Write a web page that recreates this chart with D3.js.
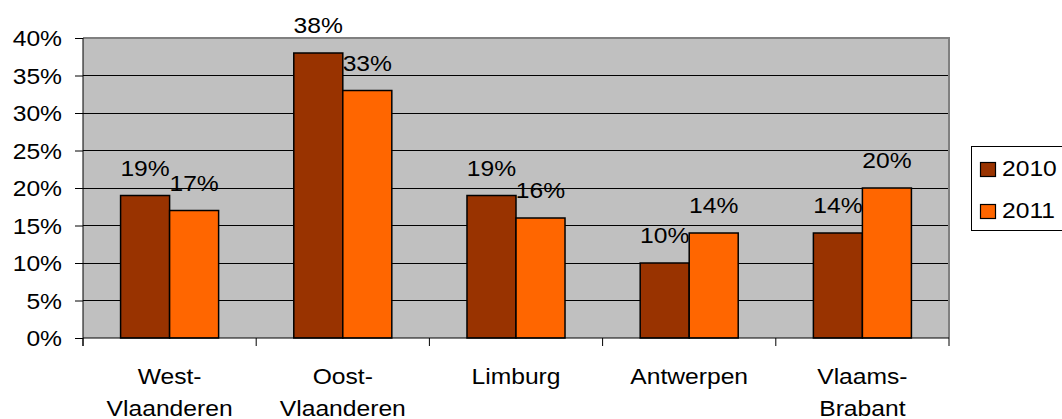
<!DOCTYPE html>
<html>
<head>
<meta charset="utf-8">
<script src="https://d3js.org/d3.v7.min.js"></script>
<style>
  html, body { margin: 0; padding: 0; background: #ffffff; }
  svg { display: block; }
  text { font-family: "Liberation Sans", Arial, sans-serif; fill: #000; }
</style>
</head>
<body>
<svg id="chart" width="1062" height="419"></svg>
<script>
const categories = [["West-", "Vlaanderen"], ["Oost-", "Vlaanderen"], ["Limburg"], ["Antwerpen"], ["Vlaams-", "Brabant"]];
const seriesNames = ["2010", "2011"];
const values2010 = [19, 38, 19, 10, 14];
const values2011 = [17, 33, 16, 14, 20];
const yTicks = [0, 5, 10, 15, 20, 25, 30, 35, 40];
const colors = ["#993300", "#FF6600"];

(function () {
const FONT = 22, STRETCH = 1.12;
const svg = d3.select("#chart");
const pLeft = 83, pRight = 949, pTop = 38, pBottom = 338;

const catKeys = categories.map(c => c.join(" "));
const x0 = d3.scaleBand().domain(catKeys).range([pLeft, pRight]).paddingInner(0).paddingOuter(0);
const bw = x0.bandwidth();
const x1 = d3.scaleBand().domain(seriesNames).range([bw * 0.217, bw * 0.783]).padding(0);
const y = d3.scaleLinear().domain([0, 40]).range([pBottom, pTop]);

function stretch(sel) {
  sel.each(function () {
    const l = this.getComputedTextLength();
    this.setAttribute("textLength", l * STRETCH);
    this.setAttribute("lengthAdjust", "spacingAndGlyphs");
  });
}

svg.append("rect").attr("x", pLeft).attr("y", pTop).attr("width", pRight - pLeft).attr("height", pBottom - pTop)
  .attr("fill", "#C0C0C0");

svg.append("g").selectAll("line").data(yTicks.filter(t => t > 0 && t < 40)).join("line")
  .attr("x1", pLeft).attr("x2", pRight).attr("y1", d => y(d)).attr("y2", d => y(d))
  .attr("stroke", "#000").attr("stroke-width", 1).attr("shape-rendering", "crispEdges");

svg.append("path")
  .attr("d", `M${pLeft},${pTop}H${pRight}V${pBottom}`)
  .attr("fill", "none").attr("stroke", "#808080").attr("stroke-width", 2);

const data = catKeys.map((k, i) => ({ key: k, vals: [values2010[i], values2011[i]] }));
const groups = svg.append("g").selectAll("g").data(data).join("g")
  .attr("transform", d => `translate(${x0(d.key)},0)`);
groups.selectAll("rect").data(d => d.vals.map((v, j) => ({ s: seriesNames[j], v, j }))).join("rect")
  .attr("x", d => x1(d.s)).attr("width", x1.bandwidth())
  .attr("y", d => y(d.v)).attr("height", d => y(0) - y(d.v))
  .attr("fill", d => colors[d.j]).attr("stroke", "#000").attr("stroke-width", 1.5);

groups.selectAll("text").data(d => d.vals.map((v, j) => ({ s: seriesNames[j], v, j }))).join("text")
  .attr("x", d => x1(d.s) + x1.bandwidth() / 2)
  .attr("y", d => y(d.v) - 20)
  .attr("text-anchor", "middle").style("font-size", FONT + "px")
  .text(d => d.v + "%")
  .call(stretch);

const yAxis = d3.axisLeft(y).tickValues(yTicks).tickFormat(d => d + "%").tickSize(8).tickPadding(13);
const gy = svg.append("g").attr("transform", `translate(${pLeft},0)`).call(yAxis);
gy.select(".domain").attr("d", `M0,${pTop}V${pBottom + 8}`).attr("stroke", "#000").attr("stroke-width", 1);
gy.selectAll(".tick line").attr("stroke", "#000");
gy.selectAll(".tick text").attr("dy", "0.36em").style("font-size", FONT + "px")
  .style("font-family", '"Liberation Sans", Arial, sans-serif').attr("fill", "#000").call(stretch);

const gx = svg.append("g").attr("transform", `translate(0,${pBottom})`);
gx.append("line").attr("x1", pLeft).attr("x2", pRight).attr("y1", 0).attr("y2", 0).attr("stroke", "#000");
const bounds = catKeys.map(k => x0(k)).concat([pRight]);
gx.selectAll("line.tk").data(bounds).join("line").attr("class", "tk")
  .attr("x1", d => d).attr("x2", d => d).attr("y1", 0).attr("y2", 8).attr("stroke", "#000");
categories.forEach((lines, i) => {
  lines.forEach((ln, li) => {
    gx.append("text")
      .attr("x", x0(catKeys[i]) + bw / 2)
      .attr("y", 46 + li * 32)
      .attr("text-anchor", "middle").style("font-size", FONT + "px")
      .text(ln).call(stretch);
  });
});

const lg = svg.append("g");
lg.append("rect").attr("x", 971.5).attr("y", 146.5).attr("width", 120).attr("height", 84)
  .attr("fill", "#fff").attr("stroke", "#000").attr("stroke-width", 1);
seriesNames.forEach((s, i) => {
  lg.append("rect").attr("x", 980.5).attr("y", 162.5 + i * 42).attr("width", 15).attr("height", 14)
    .attr("fill", colors[i]).attr("stroke", "#000").attr("stroke-width", 1.2);
  lg.append("text").attr("x", 1002).attr("y", 176 + i * 42).style("font-size", FONT + "px")
    .text(s).call(stretch);
});
})();
</script>
</body>
</html>
